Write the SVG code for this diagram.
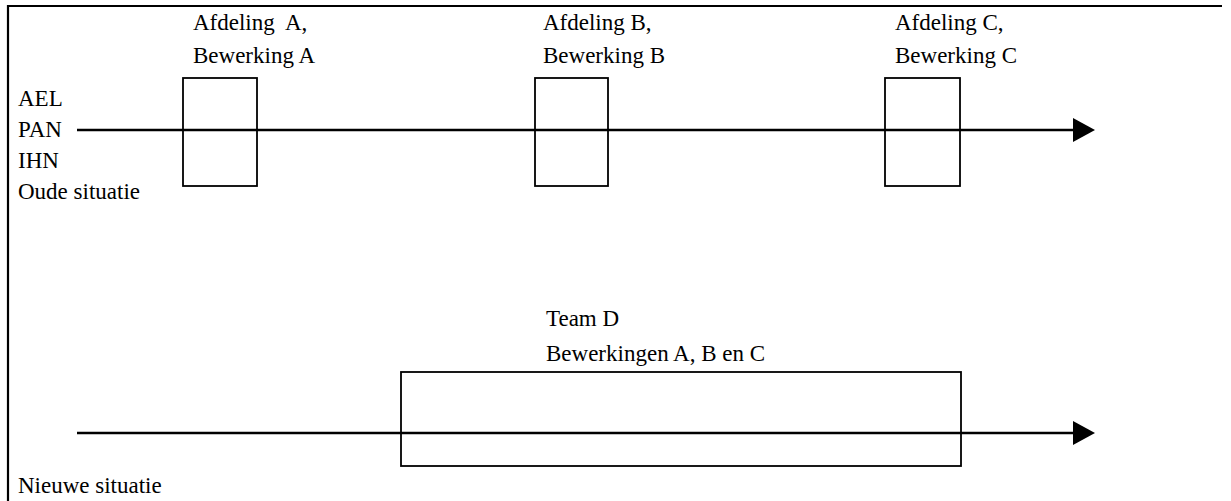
<svg xmlns="http://www.w3.org/2000/svg" width="1231" height="501" viewBox="0 0 1231 501">
<style>
.box{fill:none;stroke:#000;stroke-width:1.8}
.flow{stroke:#000;stroke-width:2.6;fill:none}
.frame{stroke:#000;stroke-width:2.2;fill:none}
</style>
<defs>
<marker id="ah" viewBox="0 0 22 24" refX="0" refY="12" markerWidth="22" markerHeight="24" markerUnits="userSpaceOnUse" orient="auto">
<path d="M0,0 L22,12 L0,24 Z" fill="#000"/>
</marker>
</defs>
<rect width="1231" height="501" fill="#fff"/>
<path class="frame" d="M8,501 V6 H1222"/>
<g font-family="Liberation Serif" font-size="23" fill="#000">
<g id="labels">
<text x="18" y="106">AEL</text>
<text x="18" y="137">PAN</text>
<text x="18" y="168">IHN</text>
<text x="18" y="199">Oude situatie</text>
<text x="18" y="493">Nieuwe situatie</text>
</g>
<g id="connectors">
<line class="flow" x1="77" y1="130" x2="1073" y2="130" marker-end="url(#ah)"/>
<line class="flow" x1="77" y1="433" x2="1073" y2="433" marker-end="url(#ah)"/>
</g>
<g id="nodeA">
<rect class="box" x="183" y="78" width="74" height="108"/>
<text x="193" y="30" xml:space="preserve">Afdeling  A,</text>
<text x="193" y="63">Bewerking A</text>
</g>
<g id="nodeB">
<rect class="box" x="535" y="78" width="73" height="108"/>
<text x="543" y="30">Afdeling B,</text>
<text x="543" y="63">Bewerking B</text>
</g>
<g id="nodeC">
<rect class="box" x="885" y="78" width="75" height="108"/>
<text x="895" y="30">Afdeling C,</text>
<text x="895" y="63">Bewerking C</text>
</g>
<g id="nodeD">
<rect class="box" x="401" y="372" width="560" height="94"/>
<text x="546" y="326">Team D</text>
<text x="546" y="361">Bewerkingen A, B en C</text>
</g>
</g>
</svg>
